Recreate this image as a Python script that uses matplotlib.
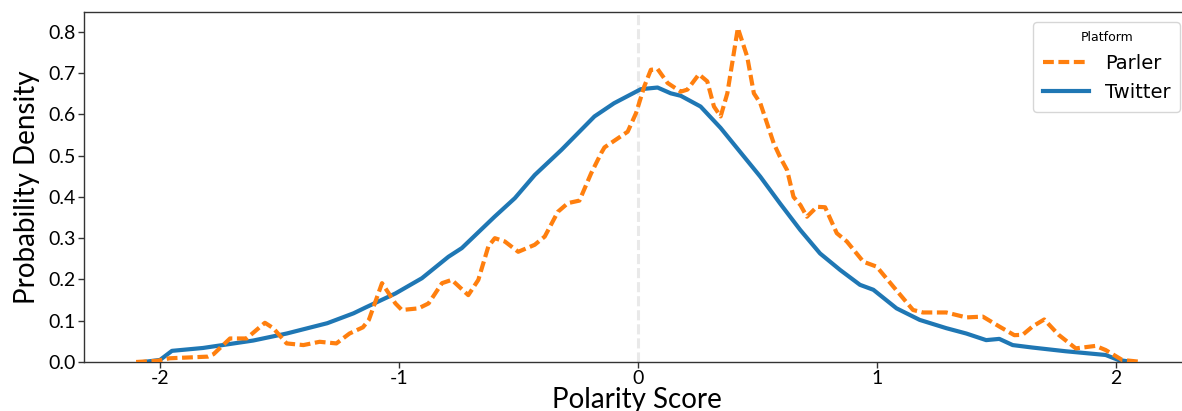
import matplotlib
matplotlib.use("Agg")
import matplotlib.pyplot as plt

# polarity density curves, read per platform
twitter_x = [-2.07, -2.00, -1.95, -1.82, -1.61, -1.47, -1.30, -1.19, -1.14, -1.015,
             -0.904, -0.793, -0.737, -0.60, -0.515, -0.432, -0.32, -0.182, -0.10, 0.012,
             0.082, 0.137, 0.179, 0.262, 0.346, 0.443, 0.512, 0.596, 0.679, 0.762,
             0.846, 0.929, 0.985, 1.082, 1.179, 1.29, 1.374, 1.457, 1.512, 1.568,
             1.651, 1.79, 1.957, 2.01, 2.07]
twitter_y = [0.0, 0.005, 0.027, 0.034, 0.052, 0.069, 0.094, 0.118, 0.132, 0.166,
             0.203, 0.255, 0.276, 0.352, 0.397, 0.453, 0.514, 0.595, 0.627, 0.661,
             0.665, 0.651, 0.645, 0.619, 0.567, 0.498, 0.449, 0.383, 0.32, 0.263,
             0.223, 0.187, 0.175, 0.13, 0.102, 0.082, 0.069, 0.053, 0.056, 0.041,
             0.035, 0.026, 0.017, 0.005, 0.0]

parler_x = [-2.10, -2.01, -1.96, -1.80, -1.776, -1.707, -1.638, -1.561, -1.526, -1.47,
            -1.40, -1.332, -1.262, -1.207, -1.151, -1.126, -1.071, -1.015, -0.988, -0.918,
            -0.876, -0.82, -0.779, -0.71, -0.668, -0.626, -0.599, -0.557, -0.501, -0.432,
            -0.39, -0.335, -0.293, -0.245, -0.196, -0.154, -0.14, -0.043, -0.008, 0.026,
            0.054, 0.082, 0.124, 0.179, 0.207, 0.255, 0.29, 0.318, 0.346, 0.374,
            0.418, 0.457, 0.485, 0.512, 0.568, 0.596, 0.624, 0.651, 0.68, 0.707,
            0.749, 0.783, 0.832, 0.874, 0.943, 0.999, 1.068, 1.151, 1.193, 1.29,
            1.374, 1.443, 1.512, 1.575, 1.61, 1.651, 1.70, 1.76, 1.832, 1.915,
            1.957, 2.026, 2.11]
parler_y = [0.0, 0.003, 0.009, 0.013, 0.019, 0.057, 0.057, 0.095, 0.082, 0.045,
            0.041, 0.049, 0.045, 0.069, 0.084, 0.102, 0.191, 0.142, 0.126, 0.13,
            0.142, 0.191, 0.199, 0.162, 0.199, 0.28, 0.30, 0.292, 0.267, 0.284,
            0.304, 0.364, 0.385, 0.391, 0.457, 0.506, 0.52, 0.558, 0.603, 0.667,
            0.708, 0.71, 0.676, 0.655, 0.66, 0.697, 0.68, 0.619, 0.595, 0.651,
            0.809, 0.74, 0.651, 0.627, 0.53, 0.495, 0.465, 0.40, 0.38, 0.352,
            0.376, 0.375, 0.312, 0.292, 0.243, 0.231, 0.183, 0.126, 0.12, 0.12,
            0.108, 0.11, 0.086, 0.065, 0.066, 0.086, 0.103, 0.066, 0.033, 0.039,
            0.029, 0.005, 0.0]

xticks = [-2, -1, 0, 1, 2]
yticks = [0.0, 0.1, 0.2, 0.3, 0.4, 0.5, 0.6, 0.7, 0.8]

fig = plt.figure(figsize=(11.82, 4.11), dpi=100)
# axes runs a little past the right edge of the figure
ax = fig.add_axes([84/1182, 49/411, 1106/1182, 350/411])

# zero reference line
ax.axvline(0, color="#e9e9e9", lw=2.2, dashes=(3.3, 1.3), zorder=1)

ax.plot(parler_x, parler_y, color="#ff7f0e", lw=3, dashes=(2.6, 1.1), label="Parler", zorder=3)
ax.plot(twitter_x, twitter_y, color="#1f77b4", lw=3, label="Twitter", zorder=2)

ax.set_xlim(-2.318, 2.31)
ax.set_ylim(0, 0.848)
ax.set_xticks(xticks)
ax.set_xticklabels([str(t) for t in xticks], family="Lato", fontsize=14)
ax.set_yticks(yticks)
ax.set_yticklabels(["%.1f" % t for t in yticks], family="Lato", fontsize=14)
ax.tick_params(length=4, width=1, color="#333333", pad=2)

for s in ax.spines.values():
    s.set_color("#333333")
    s.set_linewidth(1.0)

ax.set_xlabel("Polarity Score", family="Lato", fontsize=20, labelpad=0)
ax.set_ylabel("Probability Density", family="Lato", fontsize=20, labelpad=6)

ax.legend(title="Platform", loc="upper right", fontsize=14, title_fontsize=9,
          handlelength=2.4, borderpad=0.5)

fig.savefig("out.png", dpi=100)
